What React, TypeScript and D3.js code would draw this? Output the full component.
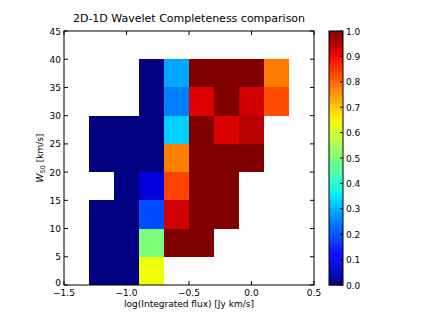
import React from "react";
import * as d3 from "d3";

// bin edges of the 2D histogram
const xEdges = [-1.3, -1.1, -0.9, -0.7, -0.5, -0.3, -0.1, 0.1, 0.3];
const yEdges = [0, 5, 10, 15, 20, 25, 30, 35, 40];

// completeness per cell, one row per W50 bin (bottom to top), null = empty
const row0 = [0, 0, 0.64, null, null, null, null, null];
const row1 = [0, 0, 0.5, 1, 1, null, null, null];
const row2 = [0, 0, 0.2, 0.93, 1, 1, null, null];
const row3 = [null, 0, 0.08, 0.84, 1, 1, null, null];
const row4 = [0, 0, 0, 0.775, 1, 1, 1, null];
const row5 = [0, 0, 0, 0.33, 1, 0.92, 0.95, null];
const row6 = [null, null, 0, 0.25, 0.92, 1, 0.93, 0.83];
const row7 = [null, null, 0, 0.29, 1, 1, 1, 0.78];
const rows = [row0, row1, row2, row3, row4, row5, row6, row7];

const xTicks = [-1.5, -1.0, -0.5, 0.0, 0.5];
const yTicks = [0, 5, 10, 15, 20, 25, 30, 35, 40, 45];
const cbTicks = [0, 0.1, 0.2, 0.3, 0.4, 0.5, 0.6, 0.7, 0.8, 0.9, 1.0];

// matplotlib "jet" segment data
function seg(pts: number[][], v: number) {
  for (let i = 1; i < pts.length; i++) {
    if (v <= pts[i][0]) {
      const [x0, y0] = pts[i - 1];
      const [x1, y1] = pts[i];
      return y0 + ((v - x0) / (x1 - x0)) * (y1 - y0);
    }
  }
  return pts[pts.length - 1][1];
}
const jetR = [[0, 0], [0.35, 0], [0.66, 1], [0.89, 1], [1, 0.5]];
const jetG = [[0, 0], [0.125, 0], [0.375, 1], [0.64, 1], [0.91, 0], [1, 0]];
const jetB = [[0, 0.5], [0.11, 1], [0.34, 1], [0.65, 0], [1, 0]];
function jet(v: number) {
  const t = Math.max(0, Math.min(1, v));
  return d3.rgb(seg(jetR, t) * 255, seg(jetG, t) * 255, seg(jetB, t) * 255).formatHex();
}

const FONT = "DejaVu Sans, sans-serif";

export default function App() {
  const W = 421, H = 316;
  const left = 64, right = 314, top = 31, bottom = 285;
  const x = d3.scaleLinear().domain([-1.5, 0.5]).range([left, right]);
  const y = d3.scaleLinear().domain([0, 45]).range([bottom, top]);
  const color = d3.scaleSequential(jet).domain([0, 1]);

  const cbX0 = 329, cbX1 = 343;
  const cb = d3.scaleLinear().domain([0, 1]).range([bottom, top]);
  const cbSteps = d3.range(256);

  const fmt = (v: number) => d3.format(".1f")(v).replace("-", "\u2212");

  return (
    <svg width={W} height={H} style={{ position: "absolute", left: 0, top: 0, background: "#fff" }} fontFamily={FONT}>
      <rect x={0} y={0} width={W} height={H} fill="#fff" />
      {rows.map((r, j) =>
        r.map((v, i) =>
          v === null ? null : (
            <rect
              key={`${i}-${j}`}
              x={x(xEdges[i])}
              y={y(yEdges[j] + 5)}
              width={x(xEdges[i + 1]) - x(xEdges[i])}
              height={y(yEdges[j]) - y(yEdges[j] + 5)}
              fill={color(v)}
              shapeRendering="crispEdges"
            />
          )
        )
      )}
      <rect x={left} y={top} width={right - left} height={bottom - top} fill="none" stroke="#000" strokeWidth={1} />
      {xTicks.map((t) => (
        <g key={`xt${t}`}>
          <line x1={x(t)} x2={x(t)} y1={bottom} y2={bottom - 4} stroke="#000" />
          <line x1={x(t)} x2={x(t)} y1={top} y2={top + 4} stroke="#000" />
          <text x={x(t)} y={bottom + 11} fontSize={9} textAnchor="middle">{fmt(t)}</text>
        </g>
      ))}
      {yTicks.map((t) => (
        <g key={`yt${t}`}>
          <line x1={left} x2={left + 4} y1={y(t)} y2={y(t)} stroke="#000" />
          <line x1={right} x2={right - 4} y1={y(t)} y2={y(t)} stroke="#000" />
          <text x={left - 3} y={y(t) + (t === 0 ? 1 : 3.5)} fontSize={9} textAnchor="end">{t}</text>
        </g>
      ))}
      <text x={(left + right) / 2} y={22} fontSize={11} textAnchor="middle">2D-1D Wavelet Completeness comparison</text>
      <text x={(left + right) / 2} y={307} fontSize={9} textAnchor="middle">log(Integrated flux) [Jy km/s]</text>
      <text transform={`translate(43,${(top + bottom) / 2}) rotate(-90)`} fontSize={9} textAnchor="middle">
        <tspan fontStyle="italic">W</tspan>
        <tspan fontSize={6.5} dy={2}>50</tspan>
        <tspan dy={-2}> [km/s]</tspan>
      </text>
      {cbSteps.map((s) => {
        const v0 = s / 256, v1 = (s + 1) / 256;
        return (
          <rect
            key={`cb${s}`}
            x={cbX0}
            y={cb(v1)}
            width={cbX1 - cbX0}
            height={cb(v0) - cb(v1) + 0.5}
            fill={color((v0 + v1) / 2)}
          />
        );
      })}
      <rect x={cbX0} y={top} width={cbX1 - cbX0} height={bottom - top} fill="none" stroke="#000" />
      {cbTicks.map((t) => (
        <g key={`cbt${t}`}>
          <line x1={cbX1} x2={cbX1 - 3} y1={cb(t)} y2={cb(t)} stroke="#000" />
          <text x={cbX1 + 3} y={cb(t) + 3.5} fontSize={9}>{fmt(t)}</text>
        </g>
      ))}
    </svg>
  );
}
